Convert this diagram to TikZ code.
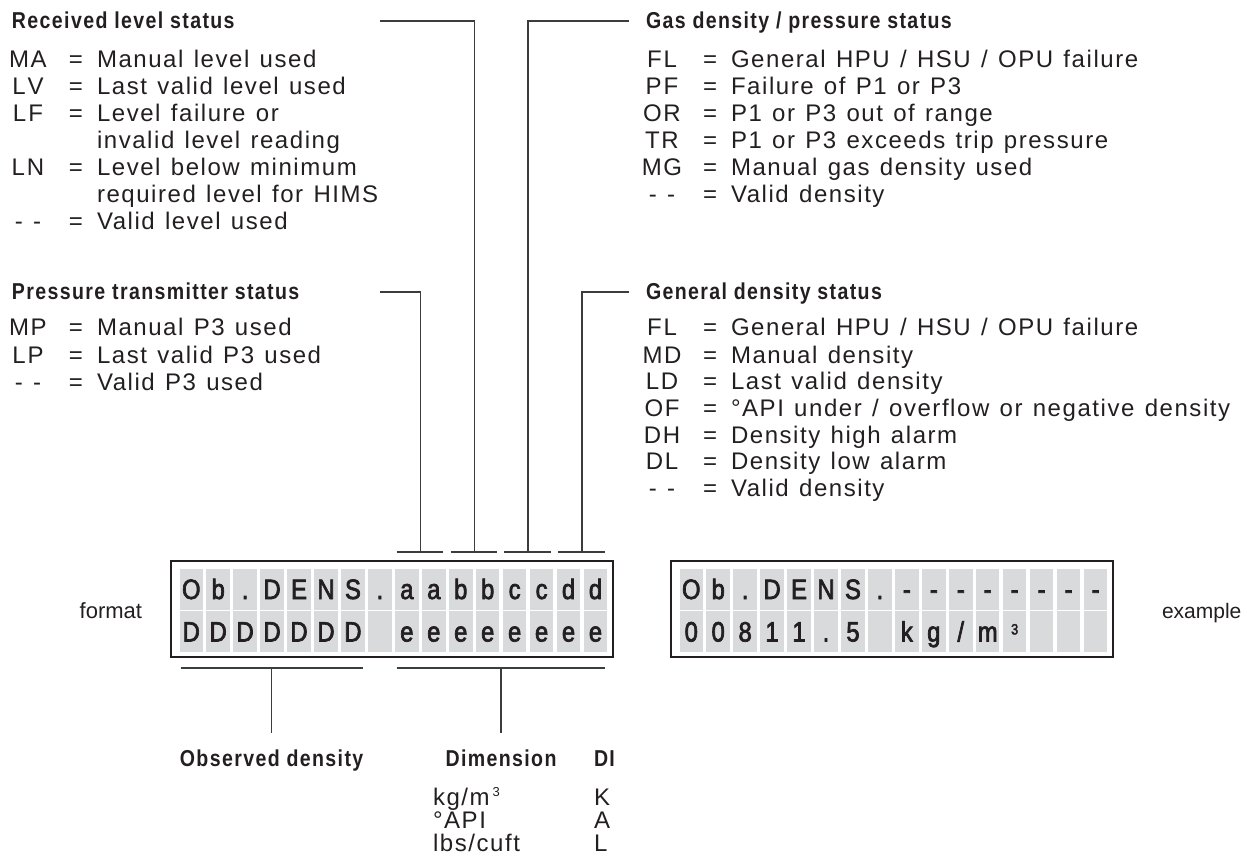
\documentclass[tikz,border=0pt]{standalone}
\usepackage{fontspec}
\setmainfont{Liberation Sans}[LetterSpace=6.5,WordSpace=1.25]
\newfontfamily\plainfont{Liberation Sans}
\newfontfamily\titlefont{Liberation Sans}[FakeStretch=0.85,LetterSpace=6]
\newfontfamily\lcdfont{Liberation Sans}[FakeStretch=0.85,FakeBold=2.5]
\definecolor{ink}{RGB}{35,31,32}
\definecolor{cellgray}{RGB}{217,218,220}
\definecolor{linec}{RGB}{60,60,60}
\newcommand\entryline[5]{%
  \node[codet] (#1c) at (#2,#3) {#4};
  \node[codet] (#1e) at (#2+48,#3) {=};
  \node[body] (#1t) at (#2+69,#3) {#5};}
\newcommand\lcdsup{\raisebox{7pt}{\fontsize{15}{15}\selectfont 3}}
\begin{document}
\begin{tikzpicture}[x=1pt,y=-1pt,
  every node/.style={inner sep=0pt,outer sep=0pt,text=ink,font=\fontsize{24}{26}\selectfont},
  body/.style={anchor=base west},
  codet/.style={anchor=base},
  ttl/.style={anchor=base west,font=\titlefont\bfseries\fontsize{23}{25}\selectfont},
  side/.style={font=\plainfont\fontsize{22}{24}\selectfont},
  cell/.style={anchor=north west,fill=cellgray,minimum width=23.5pt,minimum height=41pt,
    text height=20pt,text depth=0pt,font=\lcdfont\fontsize{28}{28}\selectfont},
  lead/.style={draw=linec,line width=1.3pt},
  lcdframe/.style={draw=ink,line width=2.5pt,anchor=north west,minimum width=442pt,minimum height=96pt}]
\useasboundingbox (0,0) rectangle (1247,858);

% titles
\node[ttl] (rls) at (12,29) {Received level status};
\node[ttl] (pts) at (12,300) {Pressure transmitter status};
\node[ttl] (gds) at (646,29) {Gas density / pressure status};
\node[ttl] (gen) at (646,300) {General density status};

% received level status
\entryline{ma}{28}{68}{MA}{Manual level used}
\entryline{lv}{28}{95}{L\kern2pt V}{Last valid level used}
\entryline{lf}{28}{122}{L\kern2pt F}{Level failure or}
\node[body] (lf2) at (97,149) {invalid level reading};
\entryline{ln}{28}{176}{L\kern2pt N}{Level below minimum}
\node[body] (ln2) at (97,203) {required level for HIMS};
\entryline{vl}{28}{230}{- -}{Valid level used}

% pressure transmitter status
\entryline{mp}{28}{336}{MP}{Manual P3 used}
\entryline{lp}{28}{363}{L\kern2pt P}{Last valid P3 used}
\entryline{vp}{28}{390}{- -}{Valid P3 used}

% gas density
\entryline{fl}{662}{68}{F\kern2pt L}{General HPU / HSU / OPU failure}
\entryline{pf}{662}{95}{P\kern2pt F}{Failure of P1 or P3}
\entryline{or}{662}{122}{OR}{P1 or P3 out of range}
\entryline{tr}{662}{149}{TR}{P1 or P3 exceeds trip pressure}
\entryline{mg}{662}{176}{MG}{Manual gas density used}
\entryline{vg}{662}{203}{- -}{Valid density}

% general density
\entryline{gfl}{662}{336}{F\kern2pt L}{General HPU / HSU / OPU failure}
\entryline{md}{662}{363}{MD}{Manual density}
\entryline{ld}{662}{389}{LD}{Last valid density}
\entryline{of}{662}{416}{OF}{°API under / overflow or negative density}
\entryline{dh}{662}{443}{DH}{Density high alarm}
\entryline{dl}{662}{469}{DL}{Density low alarm}
\entryline{vd}{662}{496}{- -}{Valid density}

% LCD frames
\node[lcdframe] (lcdL) at (171,561) {};
\node[lcdframe] (lcdR) at (671,561) {};

% LCD cells
\foreach \ch [count=\i from 0] in {O,b,.,D,E,N,S,.,a,a,b,b,c,c,d,d}
  \node[cell] (La\i) at (179.5+26.95*\i,568.5) {\ch};
\foreach \ch [count=\i from 0] in {D,D,D,D,D,D,D,{},e,e,e,e,e,e,e,e}
  \node[cell] (Lb\i) at (179.5+26.95*\i,611) {\ch};
\foreach \ch [count=\i from 0] in {O,b,.,D,E,N,S,.,-,-,-,-,-,-,-,-}
  \node[cell] (Ra\i) at (679.5+26.95*\i,568.5) {\ch};
\foreach \ch [count=\i from 0] in {0,0,8,1,1,.,5,{},k,g,{/},m,{\lcdsup},{},{},{}}
  \node[cell] (Rb\i) at (679.5+26.95*\i,611) {\ch};

\node[side,anchor=base east] (fmt) at (142,618) {format};
\node[side,anchor=base west,font=\plainfont\fontsize{21}{23}\selectfont] (exm) at (1162,618) {example};

% top brackets
\foreach \k in {0,...,3}{
  \coordinate (bl\k) at (396.6+53.9*\k,552);
  \coordinate (br\k) at (443+53.9*\k,552);
  \coordinate (bm\k) at (420.3+53.9*\k,552);
  \draw[lead] (bl\k) -- (br\k);
}
\coordinate (h0) at (380,292);
\coordinate (h1) at (380,21);
\coordinate (h2) at (629,21);
\coordinate (h3) at (629,292);
\draw[lead] (h0) -| (bm0);
\draw[lead] (h1) -| (bm1);
\draw[lead] (h2) -| (bm2);
\draw[lead] (h3) -| (bm3);

% bottom brackets
\coordinate (ul1) at (180.5,668);
\coordinate (ur1) at (362.7,668);
\coordinate (um1) at (271.6,668);
\coordinate (ud1) at (271.6,733);
\coordinate (ul2) at (396.6,668);
\coordinate (ur2) at (605.3,668);
\coordinate (um2) at (501,668);
\coordinate (ud2) at (501,733);
\draw[lead] (ul1) -- (ur1);
\draw[lead] (um1) -- (ud1);
\draw[lead] (ul2) -- (ur2);
\draw[lead] (um2) -- (ud2);

\node[ttl,anchor=base] (obs) at (271.6,766) {Observed density};
\node[ttl,anchor=base] (dim) at (501,766) {Dimension};
\node[ttl] (dil) at (594,766) {DI};
\node[body] (u1) at (433,805) {kg/m\kern3pt\raisebox{9pt}{\fontsize{13}{13}\selectfont 3}};
\node[body] (u2) at (433,828) {°API};
\node[body] (u3) at (433,851) {lbs/cuft};
\node[body] (k1) at (594,805) {K};
\node[body] (k2) at (594,828) {A};
\node[body] (k3) at (594,851) {L};
\end{tikzpicture}
\end{document}
